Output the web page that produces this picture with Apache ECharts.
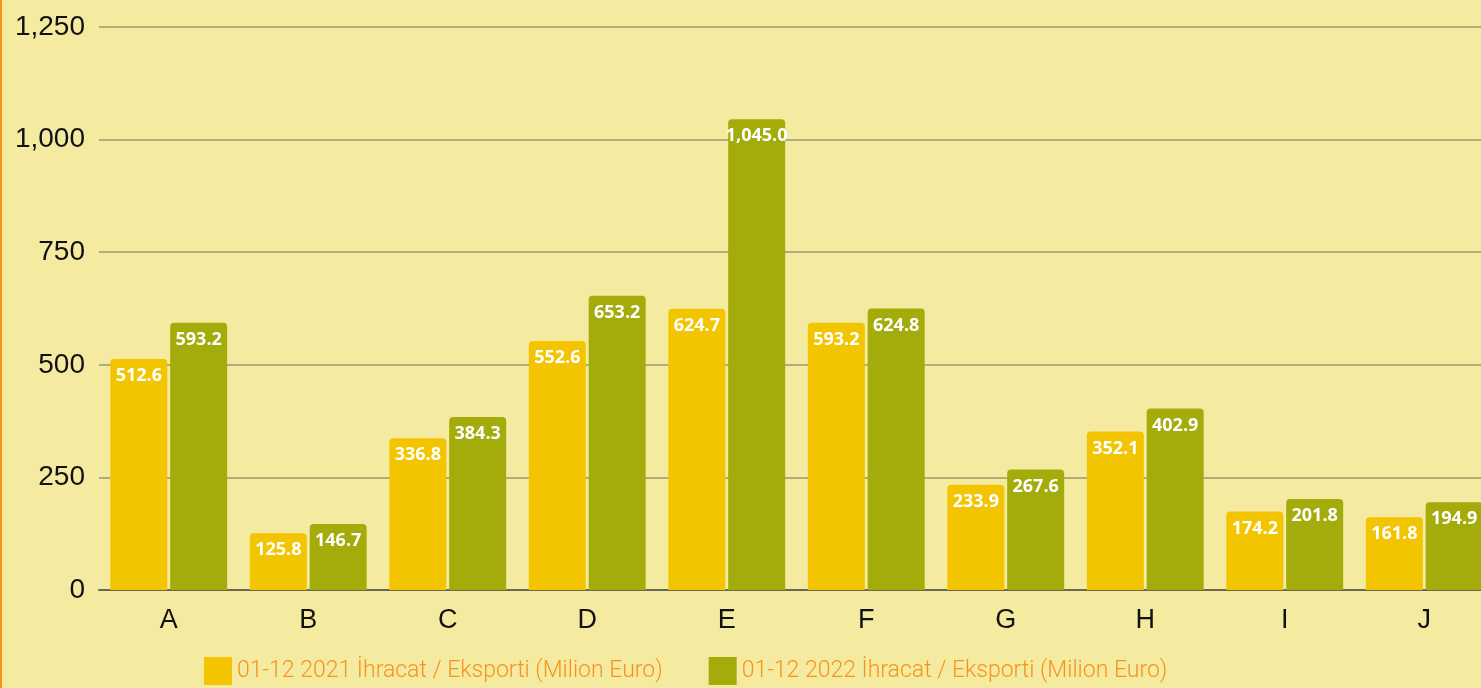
<!DOCTYPE html>
<html><head><meta charset="utf-8">
<script src="https://cdn.jsdelivr.net/npm/echarts@6/dist/echarts.min.js"></script>
<style>html,body{margin:0;padding:0;background:#F4EAA0;}#c{width:1479px;height:688px;border-left:2px solid #F7941D;}</style>
</head><body><div id="c"></div>
<script>
const categories = ['A','B','C','D','E','F','G','H','I','J'];
const series2021 = [512.6,125.8,336.8,552.6,624.7,593.2,233.9,352.1,174.2,161.8];
const series2022 = [593.2,146.7,384.3,653.2,1045.0,624.8,267.6,402.9,201.8,194.9];
const seriesNames = ['01-12 2021 İhracat / Eksporti (Milion Euro)','01-12 2022 İhracat / Eksporti (Milion Euro)'];
const yTicks = {min:0, max:1250, interval:250};

const chart = echarts.init(document.getElementById('c'));
const fmt = v => v.toLocaleString('en-US',{minimumFractionDigits:1,maximumFractionDigits:1});
const lbl = {show:true, position:'insideTop', distance:8, color:'#ffffff', fontFamily:'Open Sans', fontWeight:'bold', fontSize:18, formatter:p=>fmt(p.value)};
chart.setOption({
  backgroundColor:'#F4EAA0',
  animation:false,
  grid:{left:97, width:1395, top:27, bottom:98, containLabel:false, outerBoundsMode:'none'},
  legend:{left:197, bottom:-2, itemWidth:28, itemHeight:28, itemGap:46, icon:'rect',
    textStyle:{color:'#F7941D', fontSize:23, fontWeight:300, fontFamily:'Roboto'}},
  xAxis:{type:'category', data:categories,
    axisLine:{lineStyle:{color:'#6b6850', width:2}}, axisTick:{show:false},
    axisLabel:{color:'#111', fontSize:27, fontFamily:'Liberation Sans', margin:17}},
  yAxis:{type:'value', min:yTicks.min, max:yTicks.max, interval:yTicks.interval,
    axisLine:{show:false}, axisTick:{show:false},
    splitLine:{lineStyle:{color:'#b3ab78', width:2}},
    axisLabel:{color:'#111', fontSize:28, fontFamily:'Liberation Sans', margin:14,
      formatter:v=>v.toLocaleString('en-US')}},
  series:[
    {name:seriesNames[0], type:'bar', data:series2021, barWidth:57, barGap:'5%',
     itemStyle:{color:'#F2C500', borderRadius:[4,4,0,0]}, label:lbl},
    {name:seriesNames[1], type:'bar', data:series2022, barWidth:57,
     itemStyle:{color:'#A4AC0B', borderRadius:[4,4,0,0]}, label:lbl}
  ]
});
</script></body></html>
